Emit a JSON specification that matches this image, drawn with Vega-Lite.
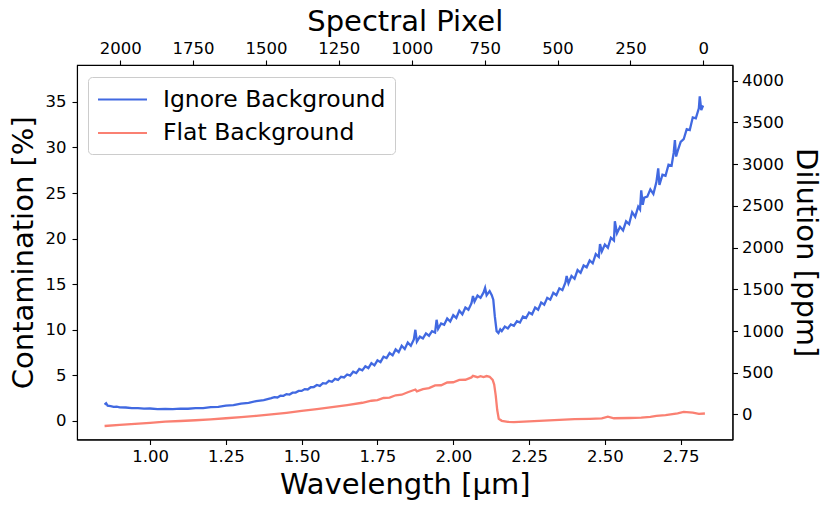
{
  "$schema": "https://vega.github.io/schema/vega-lite/v6.json",
  "autosize": {"type": "none"},
  "width": 655.5,
  "height": 374.5,
  "padding": {"left": 77, "top": 65, "right": 97.5, "bottom": 71.5},
  "background": "white",
  "config": {
    "font": "DejaVu Sans",
    "view": {"stroke": "black", "strokeWidth": 1.1},
    "axis": {
      "grid": false,
      "domainColor": "black",
      "domainWidth": 1.1,
      "tickColor": "black",
      "tickWidth": 1.1,
      "tickSize": 5,
      "labelPadding": 4,
      "labelFontSize": 16.5,
      "labelColor": "black",
      "titleFontSize": 29,
      "titleFontWeight": "normal",
      "titleColor": "black"
    },
    "legend": {
      "orient": "none",
      "legendX": 11,
      "legendY": 12,
      "title": null,
      "symbolType": "M -2 0 H 2",
      "symbolSize": 600,
      "symbolOffset": 12,
      "symbolStrokeWidth": 2.2,
      "labelFontSize": 23.5,
      "labelColor": "black",
      "labelLimit": 0,
      "labelOffset": 27,
      "padding": 9,
      "rowPadding": 8.5,
      "strokeColor": "#cccccc",
      "fillColor": "white",
      "cornerRadius": 4
    }
  },
  "datasets": {
    "curves": [
      {"s": "Ignore Background", "w": 0.850, "c": 1.80},
      {"s": "Ignore Background", "w": 0.855, "c": 1.95},
      {"s": "Ignore Background", "w": 0.860, "c": 1.68},
      {"s": "Ignore Background", "w": 0.870, "c": 1.64},
      {"s": "Ignore Background", "w": 0.880, "c": 1.55},
      {"s": "Ignore Background", "w": 0.890, "c": 1.57},
      {"s": "Ignore Background", "w": 0.900, "c": 1.49},
      {"s": "Ignore Background", "w": 0.920, "c": 1.48},
      {"s": "Ignore Background", "w": 0.940, "c": 1.42},
      {"s": "Ignore Background", "w": 0.960, "c": 1.41},
      {"s": "Ignore Background", "w": 0.980, "c": 1.36},
      {"s": "Ignore Background", "w": 1.000, "c": 1.37},
      {"s": "Ignore Background", "w": 1.025, "c": 1.31},
      {"s": "Ignore Background", "w": 1.050, "c": 1.33},
      {"s": "Ignore Background", "w": 1.075, "c": 1.30},
      {"s": "Ignore Background", "w": 1.100, "c": 1.35},
      {"s": "Ignore Background", "w": 1.125, "c": 1.34},
      {"s": "Ignore Background", "w": 1.150, "c": 1.41},
      {"s": "Ignore Background", "w": 1.175, "c": 1.42},
      {"s": "Ignore Background", "w": 1.200, "c": 1.52},
      {"s": "Ignore Background", "w": 1.225, "c": 1.55},
      {"s": "Ignore Background", "w": 1.250, "c": 1.68},
      {"s": "Ignore Background", "w": 1.275, "c": 1.74},
      {"s": "Ignore Background", "w": 1.300, "c": 1.90},
      {"s": "Ignore Background", "w": 1.325, "c": 1.99},
      {"s": "Ignore Background", "w": 1.350, "c": 2.18},
      {"s": "Ignore Background", "w": 1.375, "c": 2.30},
      {"s": "Ignore Background", "w": 1.40, "c": 2.50},
      {"s": "Ignore Background", "w": 1.41, "c": 2.62},
      {"s": "Ignore Background", "w": 1.42, "c": 2.58},
      {"s": "Ignore Background", "w": 1.43, "c": 2.78},
      {"s": "Ignore Background", "w": 1.44, "c": 2.76},
      {"s": "Ignore Background", "w": 1.45, "c": 2.95},
      {"s": "Ignore Background", "w": 1.46, "c": 2.90},
      {"s": "Ignore Background", "w": 1.47, "c": 3.10},
      {"s": "Ignore Background", "w": 1.48, "c": 3.12},
      {"s": "Ignore Background", "w": 1.49, "c": 3.30},
      {"s": "Ignore Background", "w": 1.50, "c": 3.30},
      {"s": "Ignore Background", "w": 1.51, "c": 3.50},
      {"s": "Ignore Background", "w": 1.52, "c": 3.46},
      {"s": "Ignore Background", "w": 1.53, "c": 3.70},
      {"s": "Ignore Background", "w": 1.54, "c": 3.72},
      {"s": "Ignore Background", "w": 1.55, "c": 3.95},
      {"s": "Ignore Background", "w": 1.56, "c": 3.85},
      {"s": "Ignore Background", "w": 1.57, "c": 4.15},
      {"s": "Ignore Background", "w": 1.58, "c": 4.10},
      {"s": "Ignore Background", "w": 1.59, "c": 4.40},
      {"s": "Ignore Background", "w": 1.60, "c": 4.30},
      {"s": "Ignore Background", "w": 1.61, "c": 4.62},
      {"s": "Ignore Background", "w": 1.62, "c": 4.50},
      {"s": "Ignore Background", "w": 1.63, "c": 4.85},
      {"s": "Ignore Background", "w": 1.64, "c": 4.78},
      {"s": "Ignore Background", "w": 1.65, "c": 5.10},
      {"s": "Ignore Background", "w": 1.66, "c": 4.98},
      {"s": "Ignore Background", "w": 1.67, "c": 5.40},
      {"s": "Ignore Background", "w": 1.68, "c": 5.25},
      {"s": "Ignore Background", "w": 1.69, "c": 5.70},
      {"s": "Ignore Background", "w": 1.70, "c": 5.55},
      {"s": "Ignore Background", "w": 1.71, "c": 6.00},
      {"s": "Ignore Background", "w": 1.72, "c": 5.80},
      {"s": "Ignore Background", "w": 1.73, "c": 6.35},
      {"s": "Ignore Background", "w": 1.74, "c": 6.10},
      {"s": "Ignore Background", "w": 1.75, "c": 6.65},
      {"s": "Ignore Background", "w": 1.76, "c": 6.45},
      {"s": "Ignore Background", "w": 1.77, "c": 7.05},
      {"s": "Ignore Background", "w": 1.78, "c": 6.90},
      {"s": "Ignore Background", "w": 1.79, "c": 7.45},
      {"s": "Ignore Background", "w": 1.80, "c": 7.20},
      {"s": "Ignore Background", "w": 1.81, "c": 7.85},
      {"s": "Ignore Background", "w": 1.82, "c": 7.55},
      {"s": "Ignore Background", "w": 1.83, "c": 8.25},
      {"s": "Ignore Background", "w": 1.84, "c": 7.90},
      {"s": "Ignore Background", "w": 1.85, "c": 8.60},
      {"s": "Ignore Background", "w": 1.86, "c": 8.25},
      {"s": "Ignore Background", "w": 1.87, "c": 8.95},
      {"s": "Ignore Background", "w": 1.875, "c": 10.00},
      {"s": "Ignore Background", "w": 1.88, "c": 8.70},
      {"s": "Ignore Background", "w": 1.89, "c": 9.25},
      {"s": "Ignore Background", "w": 1.90, "c": 9.05},
      {"s": "Ignore Background", "w": 1.91, "c": 9.60},
      {"s": "Ignore Background", "w": 1.92, "c": 9.35},
      {"s": "Ignore Background", "w": 1.93, "c": 9.85},
      {"s": "Ignore Background", "w": 1.94, "c": 9.70},
      {"s": "Ignore Background", "w": 1.945, "c": 11.10},
      {"s": "Ignore Background", "w": 1.95, "c": 10.10},
      {"s": "Ignore Background", "w": 1.96, "c": 10.70},
      {"s": "Ignore Background", "w": 1.97, "c": 10.55},
      {"s": "Ignore Background", "w": 1.98, "c": 11.25},
      {"s": "Ignore Background", "w": 1.99, "c": 10.90},
      {"s": "Ignore Background", "w": 2.00, "c": 11.60},
      {"s": "Ignore Background", "w": 2.01, "c": 11.30},
      {"s": "Ignore Background", "w": 2.02, "c": 12.10},
      {"s": "Ignore Background", "w": 2.03, "c": 11.70},
      {"s": "Ignore Background", "w": 2.04, "c": 12.45},
      {"s": "Ignore Background", "w": 2.05, "c": 12.20},
      {"s": "Ignore Background", "w": 2.06, "c": 12.90},
      {"s": "Ignore Background", "w": 2.065, "c": 13.70},
      {"s": "Ignore Background", "w": 2.07, "c": 13.10},
      {"s": "Ignore Background", "w": 2.08, "c": 13.75},
      {"s": "Ignore Background", "w": 2.09, "c": 13.50},
      {"s": "Ignore Background", "w": 2.10, "c": 14.10},
      {"s": "Ignore Background", "w": 2.105, "c": 14.60},
      {"s": "Ignore Background", "w": 2.11, "c": 13.80},
      {"s": "Ignore Background", "w": 2.12, "c": 14.25},
      {"s": "Ignore Background", "w": 2.127, "c": 13.80},
      {"s": "Ignore Background", "w": 2.132, "c": 13.30},
      {"s": "Ignore Background", "w": 2.137, "c": 11.50},
      {"s": "Ignore Background", "w": 2.143, "c": 9.85},
      {"s": "Ignore Background", "w": 2.149, "c": 9.65},
      {"s": "Ignore Background", "w": 2.155, "c": 10.05},
      {"s": "Ignore Background", "w": 2.16, "c": 9.85},
      {"s": "Ignore Background", "w": 2.17, "c": 10.35},
      {"s": "Ignore Background", "w": 2.18, "c": 10.15},
      {"s": "Ignore Background", "w": 2.19, "c": 10.60},
      {"s": "Ignore Background", "w": 2.20, "c": 10.45},
      {"s": "Ignore Background", "w": 2.21, "c": 10.95},
      {"s": "Ignore Background", "w": 2.22, "c": 10.80},
      {"s": "Ignore Background", "w": 2.23, "c": 11.45},
      {"s": "Ignore Background", "w": 2.24, "c": 11.30},
      {"s": "Ignore Background", "w": 2.25, "c": 11.90},
      {"s": "Ignore Background", "w": 2.26, "c": 11.70},
      {"s": "Ignore Background", "w": 2.27, "c": 12.45},
      {"s": "Ignore Background", "w": 2.28, "c": 12.20},
      {"s": "Ignore Background", "w": 2.29, "c": 13.00},
      {"s": "Ignore Background", "w": 2.30, "c": 12.75},
      {"s": "Ignore Background", "w": 2.31, "c": 13.50},
      {"s": "Ignore Background", "w": 2.32, "c": 13.30},
      {"s": "Ignore Background", "w": 2.33, "c": 14.05},
      {"s": "Ignore Background", "w": 2.34, "c": 13.80},
      {"s": "Ignore Background", "w": 2.35, "c": 14.55},
      {"s": "Ignore Background", "w": 2.36, "c": 14.35},
      {"s": "Ignore Background", "w": 2.37, "c": 15.20},
      {"s": "Ignore Background", "w": 2.374, "c": 15.90},
      {"s": "Ignore Background", "w": 2.38, "c": 15.10},
      {"s": "Ignore Background", "w": 2.39, "c": 15.90},
      {"s": "Ignore Background", "w": 2.40, "c": 15.60},
      {"s": "Ignore Background", "w": 2.41, "c": 16.55},
      {"s": "Ignore Background", "w": 2.42, "c": 16.25},
      {"s": "Ignore Background", "w": 2.43, "c": 17.05},
      {"s": "Ignore Background", "w": 2.44, "c": 16.85},
      {"s": "Ignore Background", "w": 2.45, "c": 17.60},
      {"s": "Ignore Background", "w": 2.46, "c": 17.30},
      {"s": "Ignore Background", "w": 2.47, "c": 18.30},
      {"s": "Ignore Background", "w": 2.48, "c": 18.00},
      {"s": "Ignore Background", "w": 2.484, "c": 19.40},
      {"s": "Ignore Background", "w": 2.49, "c": 18.60},
      {"s": "Ignore Background", "w": 2.50, "c": 19.35},
      {"s": "Ignore Background", "w": 2.51, "c": 19.00},
      {"s": "Ignore Background", "w": 2.52, "c": 20.10},
      {"s": "Ignore Background", "w": 2.53, "c": 19.80},
      {"s": "Ignore Background", "w": 2.533, "c": 21.90},
      {"s": "Ignore Background", "w": 2.54, "c": 20.60},
      {"s": "Ignore Background", "w": 2.55, "c": 21.30},
      {"s": "Ignore Background", "w": 2.56, "c": 20.90},
      {"s": "Ignore Background", "w": 2.57, "c": 21.90},
      {"s": "Ignore Background", "w": 2.58, "c": 21.60},
      {"s": "Ignore Background", "w": 2.59, "c": 22.90},
      {"s": "Ignore Background", "w": 2.60, "c": 22.40},
      {"s": "Ignore Background", "w": 2.61, "c": 23.50},
      {"s": "Ignore Background", "w": 2.616, "c": 23.20},
      {"s": "Ignore Background", "w": 2.62, "c": 25.30},
      {"s": "Ignore Background", "w": 2.625, "c": 23.70},
      {"s": "Ignore Background", "w": 2.63, "c": 24.50},
      {"s": "Ignore Background", "w": 2.64, "c": 24.60},
      {"s": "Ignore Background", "w": 2.65, "c": 25.40},
      {"s": "Ignore Background", "w": 2.66, "c": 24.90},
      {"s": "Ignore Background", "w": 2.67, "c": 26.20},
      {"s": "Ignore Background", "w": 2.676, "c": 27.70},
      {"s": "Ignore Background", "w": 2.68, "c": 25.90},
      {"s": "Ignore Background", "w": 2.69, "c": 27.00},
      {"s": "Ignore Background", "w": 2.70, "c": 26.90},
      {"s": "Ignore Background", "w": 2.71, "c": 28.10},
      {"s": "Ignore Background", "w": 2.72, "c": 28.00},
      {"s": "Ignore Background", "w": 2.727, "c": 29.40},
      {"s": "Ignore Background", "w": 2.731, "c": 30.80},
      {"s": "Ignore Background", "w": 2.735, "c": 29.00},
      {"s": "Ignore Background", "w": 2.74, "c": 29.60},
      {"s": "Ignore Background", "w": 2.75, "c": 30.60},
      {"s": "Ignore Background", "w": 2.76, "c": 30.90},
      {"s": "Ignore Background", "w": 2.77, "c": 32.00},
      {"s": "Ignore Background", "w": 2.78, "c": 31.90},
      {"s": "Ignore Background", "w": 2.79, "c": 33.30},
      {"s": "Ignore Background", "w": 2.80, "c": 33.20},
      {"s": "Ignore Background", "w": 2.81, "c": 34.30},
      {"s": "Ignore Background", "w": 2.813, "c": 35.60},
      {"s": "Ignore Background", "w": 2.818, "c": 34.10},
      {"s": "Ignore Background", "w": 2.824, "c": 34.60},
      {"s": "Flat Background", "w": 0.85, "c": -0.55},
      {"s": "Flat Background", "w": 0.90, "c": -0.43},
      {"s": "Flat Background", "w": 0.95, "c": -0.31},
      {"s": "Flat Background", "w": 1.00, "c": -0.20},
      {"s": "Flat Background", "w": 1.05, "c": -0.08},
      {"s": "Flat Background", "w": 1.10, "c": 0.00},
      {"s": "Flat Background", "w": 1.15, "c": 0.08},
      {"s": "Flat Background", "w": 1.20, "c": 0.18},
      {"s": "Flat Background", "w": 1.25, "c": 0.30},
      {"s": "Flat Background", "w": 1.30, "c": 0.43},
      {"s": "Flat Background", "w": 1.35, "c": 0.57},
      {"s": "Flat Background", "w": 1.40, "c": 0.72},
      {"s": "Flat Background", "w": 1.45, "c": 0.90},
      {"s": "Flat Background", "w": 1.50, "c": 1.10},
      {"s": "Flat Background", "w": 1.55, "c": 1.30},
      {"s": "Flat Background", "w": 1.60, "c": 1.52},
      {"s": "Flat Background", "w": 1.65, "c": 1.75},
      {"s": "Flat Background", "w": 1.70, "c": 2.00},
      {"s": "Flat Background", "w": 1.73, "c": 2.22},
      {"s": "Flat Background", "w": 1.75, "c": 2.28},
      {"s": "Flat Background", "w": 1.77, "c": 2.52},
      {"s": "Flat Background", "w": 1.79, "c": 2.56},
      {"s": "Flat Background", "w": 1.81, "c": 2.82},
      {"s": "Flat Background", "w": 1.83, "c": 2.88},
      {"s": "Flat Background", "w": 1.85, "c": 3.15},
      {"s": "Flat Background", "w": 1.875, "c": 3.45},
      {"s": "Flat Background", "w": 1.88, "c": 3.25},
      {"s": "Flat Background", "w": 1.90, "c": 3.50},
      {"s": "Flat Background", "w": 1.92, "c": 3.60},
      {"s": "Flat Background", "w": 1.94, "c": 3.90},
      {"s": "Flat Background", "w": 1.96, "c": 3.92},
      {"s": "Flat Background", "w": 1.98, "c": 4.22},
      {"s": "Flat Background", "w": 2.00, "c": 4.25},
      {"s": "Flat Background", "w": 2.02, "c": 4.50},
      {"s": "Flat Background", "w": 2.04, "c": 4.52},
      {"s": "Flat Background", "w": 2.06, "c": 4.78},
      {"s": "Flat Background", "w": 2.065, "c": 4.95},
      {"s": "Flat Background", "w": 2.08, "c": 4.80},
      {"s": "Flat Background", "w": 2.09, "c": 4.92},
      {"s": "Flat Background", "w": 2.10, "c": 4.82},
      {"s": "Flat Background", "w": 2.11, "c": 4.93},
      {"s": "Flat Background", "w": 2.12, "c": 4.85},
      {"s": "Flat Background", "w": 2.13, "c": 4.50},
      {"s": "Flat Background", "w": 2.135, "c": 4.00},
      {"s": "Flat Background", "w": 2.14, "c": 2.80},
      {"s": "Flat Background", "w": 2.145, "c": 1.20},
      {"s": "Flat Background", "w": 2.15, "c": 0.25},
      {"s": "Flat Background", "w": 2.16, "c": 0.02},
      {"s": "Flat Background", "w": 2.18, "c": -0.10},
      {"s": "Flat Background", "w": 2.20, "c": -0.12},
      {"s": "Flat Background", "w": 2.25, "c": -0.05},
      {"s": "Flat Background", "w": 2.30, "c": 0.05},
      {"s": "Flat Background", "w": 2.35, "c": 0.12},
      {"s": "Flat Background", "w": 2.40, "c": 0.20},
      {"s": "Flat Background", "w": 2.45, "c": 0.24},
      {"s": "Flat Background", "w": 2.49, "c": 0.28},
      {"s": "Flat Background", "w": 2.51, "c": 0.47},
      {"s": "Flat Background", "w": 2.53, "c": 0.30},
      {"s": "Flat Background", "w": 2.58, "c": 0.33},
      {"s": "Flat Background", "w": 2.62, "c": 0.36},
      {"s": "Flat Background", "w": 2.65, "c": 0.45},
      {"s": "Flat Background", "w": 2.67, "c": 0.55},
      {"s": "Flat Background", "w": 2.70, "c": 0.65},
      {"s": "Flat Background", "w": 2.74, "c": 0.84},
      {"s": "Flat Background", "w": 2.76, "c": 0.99},
      {"s": "Flat Background", "w": 2.79, "c": 0.92},
      {"s": "Flat Background", "w": 2.81, "c": 0.78},
      {"s": "Flat Background", "w": 2.83, "c": 0.82}
    ],
    "secondary": [
      {"pixel": 0, "ppm": 0},
      {"pixel": 2000, "ppm": 4000}
    ]
  },
  "layer": [
    {
      "data": {"name": "curves"},
      "mark": {"type": "line", "strokeWidth": 2.3, "clip": true},
      "encoding": {
        "x": {
          "field": "w",
          "type": "quantitative",
          "scale": {"domain": [0.759, 2.921], "nice": false, "zero": false},
          "axis": {
            "orient": "bottom",
            "title": "Wavelength [µm]",
            "values": [1, 1.25, 1.5, 1.75, 2, 2.25, 2.5, 2.75],
            "format": ".2f",
            "titlePadding": 5
          }
        },
        "y": {
          "field": "c",
          "type": "quantitative",
          "scale": {"domain": [-2.03, 39.04], "nice": false, "zero": false},
          "axis": {
            "orient": "left",
            "title": "Contamination [%]",
            "values": [0, 5, 10, 15, 20, 25, 30, 35],
            "labelPadding": 6,
            "titlePadding": 7
          }
        },
        "color": {
          "field": "s",
          "type": "nominal",
          "scale": {
            "domain": ["Ignore Background", "Flat Background"],
            "range": ["#4169E1", "#FA8072"]
          }
        }
      }
    },
    {
      "data": {"name": "secondary"},
      "mark": {"type": "point", "opacity": 0},
      "encoding": {
        "x": {
          "field": "pixel",
          "type": "quantitative",
          "scale": {"domain": [-100, 2148], "reverse": true, "nice": false, "zero": false},
          "axis": {
            "orient": "top",
            "title": "Spectral Pixel",
            "values": [0, 250, 500, 750, 1000, 1250, 1500, 1750, 2000],
            "format": "d",
            "titlePadding": 4
          }
        },
        "y": {
          "field": "ppm",
          "type": "quantitative",
          "scale": {"domain": [-300, 4188], "nice": false, "zero": false},
          "axis": {
            "orient": "right",
            "title": "Dilution [ppm]",
            "values": [0, 500, 1000, 1500, 2000, 2500, 3000, 3500, 4000],
            "format": "d",
            "titlePadding": 7
          }
        }
      }
    }
  ],
  "resolve": {"scale": {"x": "independent", "y": "independent"}}
}
